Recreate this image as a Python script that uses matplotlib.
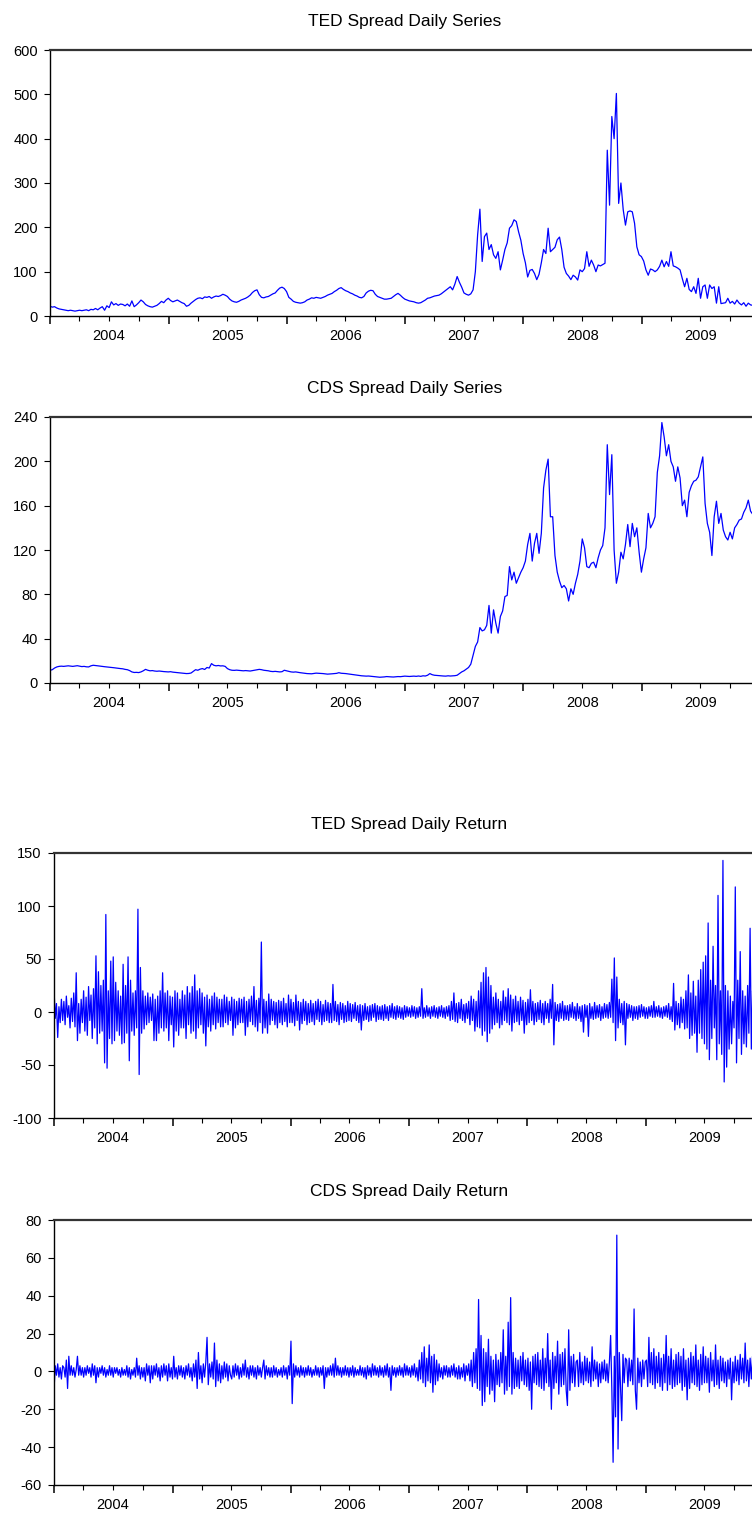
import numpy as np
import pandas as pd
import matplotlib
matplotlib.use("Agg")
import matplotlib.pyplot as plt

plt.rcParams['font.family'] = ['Liberation Sans', 'DejaVu Sans']
plt.rcParams['axes.unicode_minus'] = False

titles = ["TED Spread Daily Series", "CDS Spread Daily Series",
          "TED Spread Daily Return", "CDS Spread Daily Return"]
year_labels = ["2004", "2005", "2006", "2007", "2008", "2009"]

# TED spread level (weekly readings, 2004-2009)
ted_level = [
    22,20,21,18,16,15,14,13,12,13,12,11,12,13,12,13,14,12,15,14,17,14,18,21,13,23,19,32,25,28,24,27,26,23,27,22,34,21,25,30,36,32,26,23,21,20,22,24,28,33,30,36,
    40,35,32,34,36,33,30,28,22,24,29,33,37,40,41,39,43,42,44,40,43,45,44,46,49,47,44,38,34,32,31,33,36,38,40,43,47,53,57,59,48,42,41,43,44,47,50,52,58,63,65,62,
    55,42,38,33,31,30,29,30,32,36,38,41,40,42,41,40,42,44,47,49,51,55,58,62,64,60,57,55,52,50,47,45,42,41,44,52,56,58,57,49,44,42,40,38,38,39,40,44,48,51,47,42,
    38,36,34,33,32,30,29,30,33,36,40,41,43,45,46,47,50,54,58,62,66,59,72,89,76,65,52,49,47,50,59,100,183,241,123,179,187,150,161,138,130,145,104,126,150,165,198,204,217,213,190,171,
    141,120,88,103,105,96,82,94,120,150,141,198,145,150,155,172,178,150,110,96,90,82,92,88,81,104,100,107,145,112,126,115,100,115,113,116,119,374,250,450,400,502,254,300,240,205,235,237,235,209,156,138,
    134,124,104,92,106,104,100,104,112,126,111,123,112,145,113,111,108,104,84,66,85,60,55,66,51,85,40,66,70,40,70,62,66,29,66,28,29,30,40,29,33,27,36,29,25,30,22,29,25,24,23,24,24,
]

# CDS spread level (weekly readings, 2004-2009)
cds_level = [
    11.5,12,13.5,14.5,15,15.2,15,15.3,15.5,15.2,15,15.3,15.6,15.2,14.8,15,14.6,14.5,15.5,16,15.8,15.5,15.2,15,14.7,14.5,14.2,14,13.8,13.5,13.2,13,12.8,12.3,12,11.2,10,9.5,9.6,9.4,10,11,12.3,11.5,11,11.2,10.8,10.6,10.8,10.5,10.3,10.2,
    10,10.2,9.8,9.6,9.5,9.2,9,8.7,8.5,8.6,9,10.5,12,11.5,12.5,13,12.2,14,13.5,17.5,16,15.5,15.8,15.4,15.5,15,13,12,11.5,11.4,11.6,11.4,11.2,11,11.2,11,10.8,11.2,11.5,12,12.3,12,11.5,11.3,11,10.5,10.3,10.5,10.2,10,10.2,11.5,
    11,10.5,10,9.8,10,9.6,9.3,9,8.8,8.5,8.4,8.3,8.6,8.9,8.8,8.6,8.5,8.3,8,8.1,8.3,8.5,8.7,9.3,8.8,8.7,8.5,8.2,8,7.5,7.3,7,6.8,6.5,6.3,6.2,6.3,6.1,5.8,5.6,5.4,5.2,5.3,5.5,5.8,5.6,5.5,5.4,5.6,5.8,5.7,6,
    6.2,6,5.9,6.1,6.2,6,6.3,6,6.5,6.3,7,8.5,7.5,7,6.8,6.5,6.4,6.3,6.2,6.5,6.3,6.4,6.6,7,8.5,10,11,12.5,14,17,25,33,37,50,47,48,52,70,45,66,54,45,60,65,78,79,105,93,100,90,95,100,
    104,110,125,135,110,126,135,117,135,176,192,202,150,150,115,100,92,86,88,85,74,85,80,90,98,110,130,122,105,104,108,109,104,113,120,124,140,215,170,206,120,90,100,118,112,125,143,123,144,132,140,118,
    100,112,122,153,140,144,150,190,205,235,222,205,215,200,195,182,195,185,160,165,150,172,178,182,183,186,195,204,162,144,136,115,150,164,144,153,138,132,129,136,130,140,143,147,148,154,158,165,155,152,150,152,150,
]

# TED spread daily return (readings, ~8 per month)
ted_return = [
    22,-6,8,-24,5,-10,12,-8, 10,-12,15,-5,6,-15,13,-9, 18,-14,37,-27,8,-20,12,-10, 20,-18,14,-22,24,-8,16,-25,
    22,-15,53,-30,38,-20,25,-18, 30,-48,92,-53,20,-25,48,-30, 52,-27,28,-18,20,-22,15,-30, 45,-29,25,-20,52,-46,30,-18,
    18,-22,20,-15,97,-59,42,-20, 20,-16,15,-12,18,-10,14,-8, 17,-27,12,-27,15,-20,20,-15, 37,-18,18,-15,20,-27,15,-12,
    14,-33,20,-18,18,-22,12,-15, 20,-15,16,-25,24,-12,18,-20, 24,-18,35,-25,20,-15,22,-12, 18,-20,14,-32,16,-14,12,-18,
    15,-12,18,-16,14,-10,12,-14, 12,-14,16,-10,14,-12,10,-8, 14,-22,12,-15,10,-12,13,-10, 12,-10,14,-22,10,-14,12,-9,
    15,-12,24,-14,11,-18,13,-10, 66,-20,12,-15,10,-20,17,-12, 12,-8,10,-12,9,-15,11,-10, 10,-12,13,-9,8,-14,16,-10,
    12,-10,9,-13,16,-8,10,-17, 9,-11,12,-8,10,-12,8,-10, 11,-9,8,-12,10,-7,12,-9, 10,-12,7,-9,11,-8,9,-10,
    8,-10,26,-8,10,-9,7,-12, 9,-7,8,-10,6,-9,10,-8, 8,-9,7,-6,9,-8,6,-10, 7,-17,6,-8,8,-7,5,-9,
    6,-8,7,-5,8,-9,6,-7, 5,-7,6,-8,7,-6,5,-8, 6,-5,8,-6,5,-7,6,-5, 5,-6,4,-7,6,-5,5,-4,
    4,-5,6,-4,5,-6,4,-5, 5,-4,22,-6,4,-5,6,-4, 4,-6,5,-4,6,-5,4,-6, 5,-4,6,-5,4,-6,5,-4,
    6,-8,10,-7,18,-9,8,-10, 9,-6,12,-8,7,-10,8,-6, 10,-12,15,-8,12,-18,10,-14, 20,-15,28,-22,37,-18,42,-28,
    33,-20,25,-16,14,-12,18,-10, 12,-15,10,-12,20,-8,14,-10, 22,-12,16,-18,12,-10,15,-9, 10,-12,14,-8,11,-20,9,-12,
    12,-10,21,-8,10,-12,8,-9, 9,-7,11,-10,8,-12,10,-6, 8,-10,12,-6,26,-31,9,-8, 7,-9,8,-6,10,-8,6,-7,
    6,-8,7,-5,9,-6,5,-8, 8,-6,5,-9,6,-19,7,-5, 6,-23,8,-6,5,-7,9,-6, 6,-5,7,-8,5,-6,8,-5,
    7,-6,9,-5,31,-10,51,-27, 33,-15,12,-10,8,-12,10,-31, 8,-6,7,-5,6,-8,5,-6, 5,-7,6,-5,7,-4,5,-6,
    4,-6,5,-4,6,-5,10,-5, 5,-4,6,-5,4,-6,5,-4, 6,-5,8,-7,5,-9,27,-17, 10,-12,8,-15,14,-10,12,-16,
    20,-15,35,-25,18,-22,29,-20, 15,-38,30,-20,40,-25,47,-30, 53,-35,84,-45,30,-25,62,-15, 25,-45,110,-30,20,-40,143,-66,
    25,-52,20,-35,15,-30,10,-15, 118,-48,30,-25,57,-40,20,-30, 15,-33,25,-20,79,-35,20,-15, 18,-20,12,-15,20,-12,15,-10,
]

# CDS spread daily return (readings, ~8 per month)
cds_return = [
    -10,3,-2,4,-3,2,-4,3, 2,-3,6,-9,8,-2,3,-2, 2,-3,1,8,-2,3,-2,2, -3,2,-2,3,-1,2,-3,4,
    -2,3,-6,2,-3,2,-1,3, -2,2,-3,1,-2,3,-2,2, -3,2,-1,2,-2,1,-3,2, -2,1,-2,3,-3,2,-4,1,
    -2,2,-3,7,-2,3,-4,2, -3,2,-5,4,-2,3,-6,3, -4,3,-2,4,-3,2,-5,3, -3,4,-2,3,-5,4,-3,2,
    -4,8,-3,2,-4,3,-2,3, -3,2,-4,3,-2,4,-3,2, -5,4,-3,6,-9,10,-4,3, -6,4,-3,5,18,-7,4,-3,
    5,-4,15,-8,6,-5,4,-6, 3,-4,5,-3,4,-5,3,-2, -4,3,-3,4,-2,3,-4,2, -3,4,-2,6,-3,2,-4,3,
    -2,3,-3,2,-4,3,-2,2, -3,2,6,-4,3,-2,2,-3, 2,-3,3,-2,2,-3,1,-2, 2,-3,3,-2,2,-4,3,-2,
    16,-17,4,-3,3,-2,2,-3, 3,-2,2,-3,2,-2,3,-2, 2,-3,1,-2,3,-2,2,-3, 2,-2,3,-9,2,-3,2,-2,
    3,-2,4,-3,7,-2,3,-2, 2,-3,2,-2,3,-2,2,-3, 2,-2,3,-3,2,-2,1,-2, 3,-2,2,-3,2,-4,3,-2,
    2,-3,4,-2,3,-2,2,-3, 3,-2,2,-3,3,-2,4,-3, 2,-10,3,-2,2,-3,2,-2, 3,-2,2,-3,4,-2,3,-2,
    2,-3,3,-2,4,-3,2,-5, 6,-4,10,-6,13,-8,7,-5, 14,-6,8,-11,9,-7,6,-5, 4,-3,2,-4,3,-2,3,-3,
    2,-3,3,-2,4,-3,2,-4, 3,-4,2,-3,4,-5,3,-2, 4,-5,6,-8,10,-6,12,-9, 38,-10,19,-18,12,-16,10,-8,
    17,-12,8,-10,6,-16,9,-7, 6,-8,10,-6,22,-12,8,-10, 26,-8,39,-12,10,-9,7,-8, 6,-9,8,-5,10,-7,6,-8,
    7,-10,5,-20,8,-6,9,-7, 10,-8,6,-9,12,-10,7,-6, 20,-8,6,-20,10,-9,8,-6, 16,-12,9,-8,10,-7,12,-10,
    -18,22,-10,8,-6,9,-8,5, 6,-8,10,-6,5,-7,8,-5, 7,-6,5,-8,13,-5,6,-4, 5,-8,4,-6,5,-4,6,-5,
    4,-6,5,19,-10,-48,8,-24, 72,-41,10,-8,-26,9,-6,7, 6,-8,7,-5,6,-7,33,-10, -20,7,-6,5,-8,6,-4,5,
    6,-8,18,-6,10,-7,12,-9, 8,-6,10,-8,7,-10,9,-6, 19,-10,8,-7,12,-9,6,-8, 9,-7,10,-6,8,-10,12,-8,
    6,-15,7,-9,10,-6,8,-7, 14,-8,6,-10,9,-7,13,-6, 8,-6,7,-11,10,-5,6,-8, 14,-7,6,-9,8,-5,7,-6,
    5,-8,6,-4,7,-15,5,-6, 8,-5,6,-7,9,-4,7,-6, 15,-5,6,-8,7,-4,8,-6, 5,-7,6,-4,8,-5,6,-4,
]

series = [ted_level, cds_level, ted_return, cds_return]
ylims = [(0, 600), (0, 240), (-100, 150), (-60, 80)]
ysteps = [100, 40, 50, 20]

W, H = 752.0, 1515.0
boxes = [(50, 50, 316, 760), (50, 417, 683, 760),
         (54, 853, 1118, 764), (54, 1220, 1485, 764)]

fig = plt.figure(figsize=(7.52, 15.15), dpi=100)

start, end = pd.Timestamp('2004-01-01'), pd.Timestamp('2009-12-31')
year_starts = pd.date_range('2004-01-01', '2010-01-01', freq='YS')
quarters = pd.date_range('2004-01-01', '2010-01-01', freq='QS')
mid_years = pd.to_datetime([f'{y}-07-01' for y in year_labels])

for vals, title, yl, ys, (l, t, b, r) in zip(series, titles, ylims, ysteps, boxes):
    ax = fig.add_axes([l / W, 1 - b / H, (r - l) / W, (b - t) / H])
    dates = pd.date_range(start, end, periods=len(vals))
    ax.plot(dates, vals, color='#0000FF', lw=0.9)
    ax.set_xlim(pd.Timestamp('2004-01-01'), pd.Timestamp('2010-01-01'))
    ax.set_ylim(*yl)
    ax.set_yticks(np.arange(yl[0], yl[1] + 1, ys))
    ax.tick_params(axis='y', length=4.3, width=0.8, pad=4.5, labelsize=10.5, colors='black')
    ax.set_xticks(mid_years)
    ax.set_xticklabels(year_labels)
    ax.set_xticks(quarters, minor=True)
    ax.xaxis.remove_overlapping_locs = False
    ax.tick_params(axis='x', which='major', length=0, pad=9.5, labelsize=10.5)
    ax.tick_params(axis='x', which='minor', length=3.6, width=0.8)
    for tk, d in zip(ax.xaxis.get_minor_ticks(), quarters):
        if d.month == 1:
            tk.tick1line.set_markersize(5.8)
            tk.tick1line.set_markeredgewidth(1.1)
    ax.set_title(title, fontsize=12.5, pad=17)
    for s in ['left', 'bottom', 'right']:
        ax.spines[s].set_linewidth(1.0)
        ax.spines[s].set_color('black')
    ax.spines['top'].set_linewidth(1.6)
    ax.spines['top'].set_color('#333333')

fig.savefig('out.png', dpi=100)
